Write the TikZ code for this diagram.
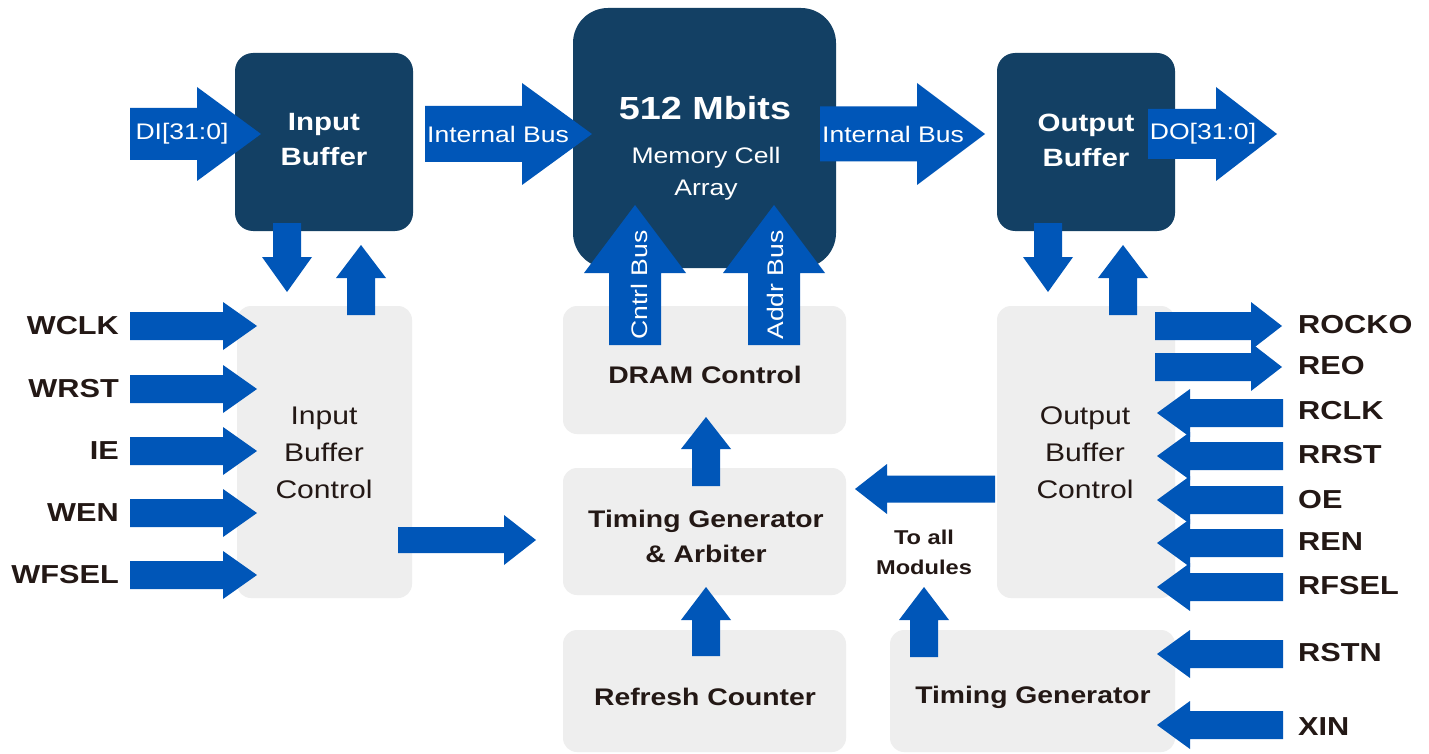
\documentclass[tikz,border=0pt]{standalone}
\usepackage{fontspec}
\setmainfont{Liberation Sans}[FakeStretch=1.18]
\definecolor{navy}{RGB}{19,64,100}
\definecolor{blu}{RGB}{0,86,184}
\definecolor{lgray}{RGB}{238,238,238}
\definecolor{ink}{RGB}{35,24,21}
% right, left, up, down block arrows
\newcommand\ArR[6]{\fill[blu] (#1,#3-#4) -- (#2-#6,#3-#4) -- (#2-#6,#3-#5) -- (#2,#3) -- (#2-#6,#3+#5) -- (#2-#6,#3+#4) -- (#1,#3+#4) -- cycle;}
\newcommand\ArL[6]{\fill[blu] (#2,#3-#4) -- (#1+#6,#3-#4) -- (#1+#6,#3-#5) -- (#1,#3) -- (#1+#6,#3+#5) -- (#1+#6,#3+#4) -- (#2,#3+#4) -- cycle;}
\newcommand\ArU[6]{\fill[blu] (#1-#4,#3) -- (#1-#4,#2+#6) -- (#1-#5,#2+#6) -- (#1,#2) -- (#1+#5,#2+#6) -- (#1+#4,#2+#6) -- (#1+#4,#3) -- cycle;}
\newcommand\ArD[6]{\fill[blu] (#1-#4,#2) -- (#1-#4,#3-#6) -- (#1-#5,#3-#6) -- (#1,#3) -- (#1+#5,#3-#6) -- (#1+#4,#3-#6) -- (#1+#4,#2) -- cycle;}
\tikzset{
  darkbox/.style={fill=navy, rounded corners=18pt, inner sep=0pt},
  graybox/.style={fill=lgray, rounded corners=14pt, inner sep=0pt},
  wbold/.style={text=white, inner sep=0pt, align=center, font=\fontsize{25}{35}\selectfont\bfseries},
  wreg/.style={text=white, inner sep=0pt, align=center, font=\fontsize{22.5}{32}\selectfont},
  gbold/.style={text=ink, inner sep=0pt, align=center, font=\fontsize{24}{35}\selectfont\bfseries},
  greg/.style={text=ink, inner sep=0pt, align=center, font=\fontsize{25.5}{37}\selectfont},
  sig/.style={text=ink, inner sep=0pt, font=\fontsize{26}{30}\selectfont\bfseries},
}
\begin{document}
\begin{tikzpicture}[x=1pt,y=-1pt]
\fill[white] (0,0) rectangle (1429,754);
\useasboundingbox (0,0) rectangle (1429,754);
% boxes
\node[darkbox, minimum width=178pt, minimum height=178pt] (ib) at (324,142) {};
\node[darkbox, rounded corners=35pt, minimum width=263pt, minimum height=260pt] (mem) at (704.5,138) {};
\node[darkbox, minimum width=178pt, minimum height=178pt] (ob) at (1086,142) {};
\node[graybox, minimum width=175pt, minimum height=292pt] (ibc) at (324.5,452) {};
\node[graybox, minimum width=283pt, minimum height=128pt] (dram) at (704.5,370) {};
\node[graybox, minimum width=283pt, minimum height=127pt] (tga) at (704.5,531.5) {};
\node[graybox, minimum width=283pt, minimum height=122pt] (rc) at (704.5,691) {};
\node[graybox, minimum width=178pt, minimum height=292pt] (obc) at (1086,452) {};
\node[graybox, minimum width=285pt, minimum height=122pt] (tg) at (1032.5,691) {};
% top bus arrows
\ArR{130}{261}{134}{26}{47}{64}
\ArR{425}{592}{134}{28}{51}{70}
\ArR{820}{985}{134}{27.5}{51}{68}
\ArR{1148}{1277}{134}{25}{47}{61}
% buffer <-> control
\ArD{287}{223}{292}{14}{25}{35}
\ArU{361}{245}{315}{14}{25}{33}
\ArD{1048}{223}{292}{14}{25}{35}
\ArU{1123}{245}{315}{14}{25}{33}
% Cntrl / Addr bus
\ArU{635}{205}{345}{26}{51}{68}
\ArU{774}{205}{345}{26}{51}{68}
% centre column
\ArU{706}{417}{486}{14}{25}{32}
\ArU{706}{587}{656}{14}{25}{33}
\ArR{398}{536}{540}{13}{25}{32}
\ArL{855}{995}{489}{13.5}{25}{32}
\ArU{924}{587}{657}{14}{25}{33}
% left signals
\foreach \yy in {326,389,451,513,575} {\ArR{130}{257}{\yy}{14}{24}{34}}
% right signals
\foreach \yy in {326,367} {\ArR{1155}{1282}{\yy}{14}{24}{31}}
\foreach \yy in {413,456,500,543,587,654,725} {\ArL{1157}{1283}{\yy}{14}{24}{33}}
% texts
\node[wbold] (tib) at (324,140) {Input\\Buffer};
\node[wbold] (tob) at (1086,140) {Output\\Buffer};
\node[text=white, inner sep=0pt, font=\fontsize{32}{36}\selectfont\bfseries] (tmem) at (705,108) {512 Mbits};
\node[wreg] (tmem2) at (706,174) {Memory Cell\\Array};
\node[wreg] (tdi) at (182,134) {DI[31:0]};
\node[wreg] (tib1) at (498,134) {Internal Bus};
\node[wreg] (tib2) at (893,134) {Internal Bus};
\node[wreg] (tdo) at (1203,134) {DO[31:0]};
\node[wreg, rotate=90] (tcb) at (639,285) {Cntrl Bus};
\node[wreg, rotate=90] (tab) at (775,285) {Addr Bus};
\node[greg] (tibc) at (324,453) {Input\\Buffer\\Control};
\node[greg] (tobc) at (1085,453) {Output\\Buffer\\Control};
\node[gbold] (tdram) at (705,375) {DRAM Control};
\node[gbold] (ttga) at (706,536) {Timing Generator\\\& Arbiter};
\node[gbold] (trc) at (705,697) {Refresh Counter};
\node[gbold] (ttg) at (1033,697) {Timing Generator};
\node[text=ink, inner sep=0pt, align=center, font=\fontsize{20}{30}\selectfont\bfseries] (tall) at (924,552) {To all\\Modules};
% left labels
\node[sig, anchor=east] (wclk) at (119,326) {WCLK};
\node[sig, anchor=east] (wrst) at (119,389) {WRST};
\node[sig, anchor=east] (ie) at (119,451) {IE};
\node[sig, anchor=east] (wen) at (119,513) {WEN};
\node[sig, anchor=east] (wfsel) at (119,575) {WFSEL};
% right labels
\node[sig, anchor=west] (rocko) at (1298,325) {ROCKO};
\node[sig, anchor=west] (reo) at (1298,366) {REO};
\node[sig, anchor=west] (rclk) at (1298,411) {RCLK};
\node[sig, anchor=west] (rrst) at (1298,455) {RRST};
\node[sig, anchor=west] (oe) at (1298,500) {OE};
\node[sig, anchor=west] (ren) at (1298,542) {REN};
\node[sig, anchor=west] (rfsel) at (1298,586) {RFSEL};
\node[sig, anchor=west] (rstn) at (1298,653) {RSTN};
\node[sig, anchor=west] (xin) at (1298,727) {XIN};
\end{tikzpicture}
\end{document}
